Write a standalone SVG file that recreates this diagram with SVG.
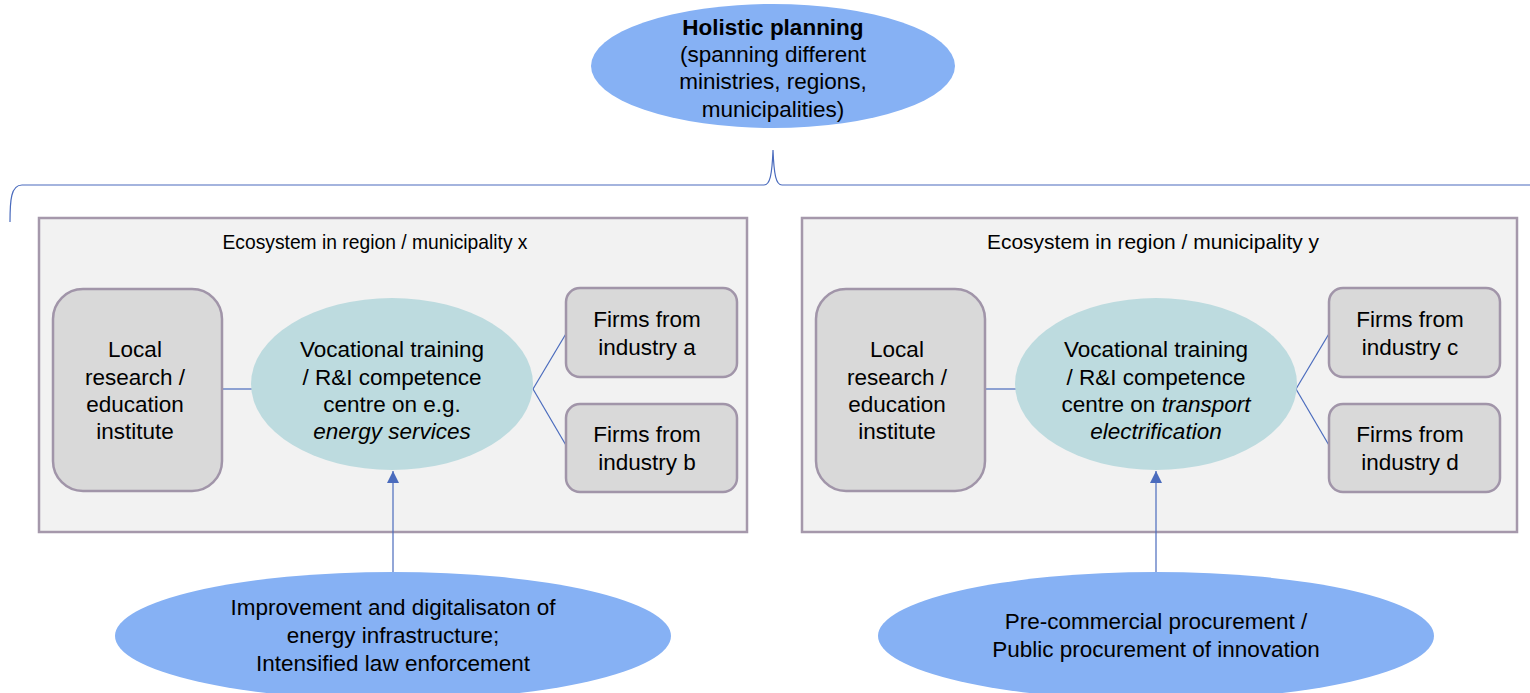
<svg xmlns="http://www.w3.org/2000/svg" width="1530" height="693" viewBox="0 0 1530 693">
<defs>
<style>
text{font-family:"Liberation Sans",Arial,sans-serif;font-size:22.5px;fill:#000;text-anchor:middle}
.b{font-weight:bold}
.i{font-style:italic}
.eco{fill:#f2f2f2;stroke:#a598ab;stroke-width:2.5}
.rb{fill:#d9d9d9;stroke:#a195a9;stroke-width:2.5}
.blue{fill:#86b1f4}
.teal{fill:#bddbdf}
.ln{fill:none;stroke:#4a6bbd;stroke-width:1.2}
</style>
<marker id="ah" markerWidth="12" markerHeight="12" refX="10" refY="5" orient="auto" markerUnits="userSpaceOnUse" viewBox="0 0 10 10">
<path d="M0,0 L10,5 L0,10 Z" fill="#4a6bbd"/>
</marker>
</defs>
<rect width="1530" height="693" fill="#fff"/>

<g id="planning">
<ellipse class="blue" cx="773" cy="66" rx="182" ry="62"/>
<text class="b" x="773" y="35">Holistic planning</text>
<text x="773" y="62">(spanning different</text>
<text x="773" y="89">ministries, regions,</text>
<text x="773" y="117">municipalities)</text>
</g>

<g id="eco-x">
<rect class="eco" x="39" y="218" width="708" height="314"/>
<text x="375" y="249" textLength="305" lengthAdjust="spacingAndGlyphs" style="font-size:21px">Ecosystem in region / municipality x</text>
</g>
<g id="eco-y">
<rect class="eco" x="802" y="218" width="715" height="314"/>
<text x="1153" y="249" textLength="332" lengthAdjust="spacingAndGlyphs" style="font-size:21px">Ecosystem in region / municipality y</text>
</g>

<g id="connectors">
<path class="ln" d="M10,222 C10,200 11,185 22,185 L764,185 C770,185 772,175 773,150 C774,175 776,185 782,185 L1532,185"/>
<line class="ln" x1="223" y1="389" x2="253" y2="389"/>
<line class="ln" x1="533" y1="389" x2="567" y2="332"/>
<line class="ln" x1="533" y1="389" x2="567" y2="447"/>
<line class="ln" x1="986" y1="389" x2="1016" y2="389"/>
<line class="ln" x1="1296" y1="389" x2="1330" y2="332"/>
<line class="ln" x1="1296" y1="389" x2="1330" y2="447"/>
<line class="ln" x1="393" y1="573" x2="393" y2="471" marker-end="url(#ah)"/>
<line class="ln" x1="1156" y1="573" x2="1156" y2="471" marker-end="url(#ah)"/>
</g>

<g id="local-x">
<rect class="rb" x="53" y="289" width="169" height="202" rx="30"/>
<text x="135" y="357">Local</text>
<text x="135" y="385">research /</text>
<text x="135" y="412">education</text>
<text x="135" y="439">institute</text>
</g>
<g id="centre-x">
<ellipse class="teal" cx="392" cy="384" rx="141" ry="86"/>
<text x="392" y="357">Vocational training</text>
<text x="392" y="385">/ R&amp;I competence</text>
<text x="392" y="412">centre on e.g.</text>
<text class="i" x="392" y="439">energy services</text>
</g>
<g id="firms-a">
<rect class="rb" x="566" y="288" width="171" height="89" rx="14"/>
<text x="647" y="327">Firms from</text>
<text x="647" y="355">industry a</text>
</g>
<g id="firms-b">
<rect class="rb" x="566" y="404" width="171" height="88" rx="14"/>
<text x="647" y="442">Firms from</text>
<text x="647" y="470">industry b</text>
</g>

<g id="local-y">
<rect class="rb" x="816" y="289" width="169" height="202" rx="30"/>
<text x="897" y="357">Local</text>
<text x="897" y="385">research /</text>
<text x="897" y="412">education</text>
<text x="897" y="439">institute</text>
</g>
<g id="centre-y">
<ellipse class="teal" cx="1156" cy="384" rx="141" ry="86"/>
<text x="1156" y="357">Vocational training</text>
<text x="1156" y="385">/ R&amp;I competence</text>
<text x="1156" y="412">centre on <tspan class="i">transport</tspan></text>
<text class="i" x="1156" y="439">electrification</text>
</g>
<g id="firms-c">
<rect class="rb" x="1329" y="288" width="171" height="89" rx="14"/>
<text x="1410" y="327">Firms from</text>
<text x="1410" y="355">industry c</text>
</g>
<g id="firms-d">
<rect class="rb" x="1329" y="404" width="171" height="88" rx="14"/>
<text x="1410" y="442">Firms from</text>
<text x="1410" y="470">industry d</text>
</g>

<g id="policy-x">
<ellipse class="blue" cx="393" cy="636" rx="278" ry="64"/>
<text x="393" y="615">Improvement and digitalisaton of</text>
<text x="393" y="643">energy infrastructure;</text>
<text x="393" y="671">Intensified law enforcement</text>
</g>
<g id="policy-y">
<ellipse class="blue" cx="1156" cy="636" rx="278" ry="64"/>
<text x="1156" y="629">Pre-commercial procurement /</text>
<text x="1156" y="657">Public procurement of innovation</text>
</g>
</svg>
